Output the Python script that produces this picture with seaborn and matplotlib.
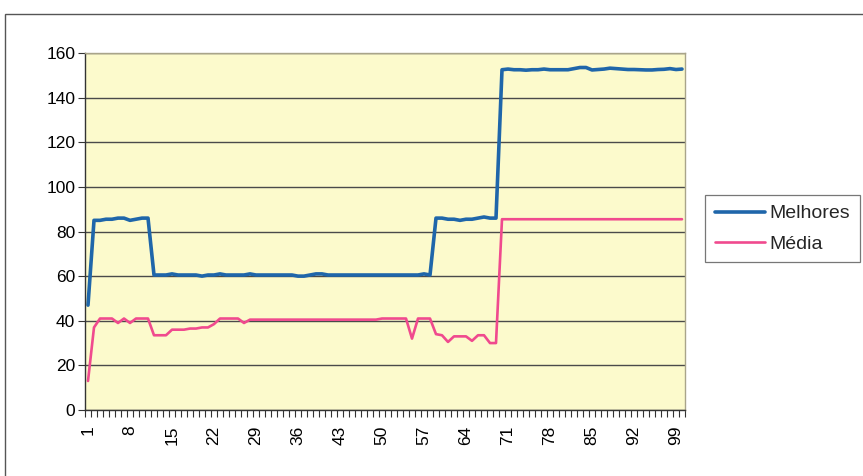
import numpy as np
import pandas as pd
import matplotlib
matplotlib.use("Agg")
import matplotlib.pyplot as plt
from matplotlib.patches import Rectangle
from matplotlib.lines import Line2D
import seaborn as sns

# Generation index (categories 1..100)
geracao = list(range(1, 101))

# Best individual per generation
melhores = (
    [47]
    + [85, 85, 85.5, 85.5, 86, 86, 85, 85.5, 86, 86]
    + [60.5, 60.5, 60.5, 61, 60.5, 60.5, 60.5, 60.5, 60, 60.5,
       60.5, 61, 60.5, 60.5, 60.5, 60.5, 61, 60.5, 60.5, 60.5,
       60.5, 60.5, 60.5, 60.5, 60, 60, 60.5, 61, 61, 60.5,
       60.5, 60.5, 60.5, 60.5, 60.5, 60.5, 60.5, 60.5, 60.5, 60.5,
       60.5, 60.5, 60.5, 60.5, 60.5, 61, 60.5]
    + [86, 86, 85.5, 85.5, 85, 85.5, 85.5, 86, 86.5, 86, 86]
    + [152.5, 152.8, 152.5, 152.5, 152.3, 152.5, 152.5, 152.8, 152.5, 152.5,
       152.5, 152.5, 153, 153.5, 153.5, 152.4, 152.6, 152.8, 153.2, 153,
       152.8, 152.6, 152.6, 152.5, 152.4, 152.4, 152.6, 152.7, 153, 152.6,
       152.8]
)

# Population average per generation
media = (
    [13, 37, 41, 41, 41, 39, 41, 39, 41, 41, 41]
    + [33.5, 33.5, 33.5, 36, 36, 36, 36.5, 36.5, 37, 37, 38.5]
    + [41, 41, 41, 41, 39, 40.5, 40.5, 40.5, 40.5, 40.5,
       40.5, 40.5, 40.5, 40.5, 40.5, 40.5, 40.5, 40.5, 40.5, 40.5,
       40.5, 40.5, 40.5, 40.5, 40.5, 40.5, 40.5, 41, 41, 41,
       41, 41]
    + [32, 41, 41, 41]
    + [34, 33.5, 30.5, 33, 33, 33, 31, 33.5, 33.5, 30, 30]
    + [85.5] * 31
)

series_names = ["Melhores", "Média"]
y_ticks = [0, 20, 40, 60, 80, 100, 120, 140, 160]
x_labels = list(range(1, 101, 7))

df = pd.DataFrame({
    "geracao": geracao * 2,
    "valor": melhores + media,
    "serie": [series_names[0]] * len(geracao) + [series_names[1]] * len(geracao),
})

sns.set_theme(style="white")
plt.rcParams["font.family"] = ["Liberation Sans", "DejaVu Sans"]

W, H = 863, 476
fig = plt.figure(figsize=(W / 100, H / 100), dpi=100)
fig.patch.set_facecolor("white")
ax = fig.add_axes([85 / W, 1 - 410 / H, 600 / W, 357 / H])
ax.set_facecolor("#FCFACC")

palette = {"Melhores": "#1F66AA", "Média": "#F04A8E"}
widths = {"Melhores": 2.6, "Média": 1.9}
sns.lineplot(data=df, x="geracao", y="valor", hue="serie", hue_order=series_names,
             palette=palette, ax=ax, legend=False, size="serie", sizes=widths)

ax.set_xlim(0.5, 100.5)
ax.set_ylim(0, 160)
ax.set_yticks(y_ticks)
ax.set_yticklabels([str(v) for v in y_ticks], fontsize=12.5, color="black")
ax.set_xticks(x_labels)
ax.set_xticklabels([str(v) for v in x_labels], rotation=90, fontsize=12.5, color="black")
ax.set_xticks(np.arange(0.5, 101, 1), minor=True)
ax.tick_params(axis="x", which="major", length=0, pad=11)
ax.tick_params(axis="x", which="minor", length=5, width=0.8, color="#333333", direction="out", bottom=True)
ax.tick_params(axis="y", which="major", length=5, width=0.8, color="#333333", direction="out", left=True, pad=2)
ax.set_xlabel("")
ax.set_ylabel("")

ax.grid(axis="y", color="#4a4a4a", linewidth=1.0, linestyle="-")
ax.set_axisbelow(True)
for side, sp in ax.spines.items():
    sp.set_visible(True)
    sp.set_linewidth(1.0)
ax.spines["left"].set_color("#333333")
ax.spines["bottom"].set_color("#333333")
ax.spines["top"].set_color("#A9A48A")
ax.spines["right"].set_color("#A9A48A")

# Legend
handles = [Line2D([], [], color=palette[s], lw=widths[s]) for s in series_names]
leg = fig.legend(handles, series_names, loc="upper left",
                 bbox_to_anchor=(705 / W, 1 - 195 / H), frameon=True,
                 fancybox=False, fontsize=14, handlelength=2.6,
                 handletextpad=0.2, borderpad=0.5, labelspacing=0.65,
                 borderaxespad=0)
leg.get_frame().set_edgecolor("#555555")
leg.get_frame().set_linewidth(0.9)

# Outer chart frame
fig.patches.append(Rectangle((5 / W, -0.05), 1.0, 1 - 14 / H + 0.05,
                             transform=fig.transFigure, fill=False,
                             edgecolor="#555555", linewidth=1.0))

fig.savefig("out.png", dpi=100, facecolor="white")
